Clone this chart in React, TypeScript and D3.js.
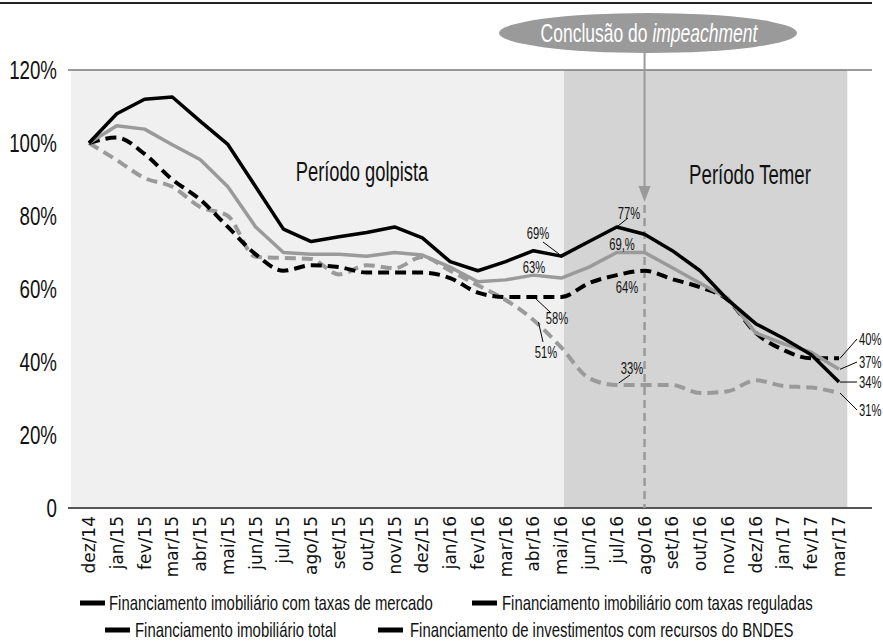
import React from 'react';
import * as d3 from 'd3';

// meses (dez/14 a mar/17)
const months = [
  'dez/14', 'jan/15', 'fev/15', 'mar/15', 'abr/15', 'mai/15', 'jun/15', 'jul/15',
  'ago/15', 'set/15', 'out/15', 'nov/15', 'dez/15', 'jan/16', 'fev/16', 'mar/16',
  'abr/16', 'mai/16', 'jun/16', 'jul/16', 'ago/16', 'set/16', 'out/16', 'nov/16',
  'dez/16', 'jan/17', 'fev/17', 'mar/17',
];

// índice (dez/14 = 100%)
const mercado = [100, 108, 112, 112.6, 106, 99.6, 88, 76.4, 73, 74.3, 75.5, 77, 74, 67.5, 65, 67.5, 70.5, 69, 73, 77, 75, 70.5, 65, 57, 50.5, 46.5, 42, 34.5];
const total = [100, 104.7, 103.8, 99.5, 95.5, 88, 77, 70, 69.5, 69.5, 69, 70, 69.3, 66, 62, 62.5, 63.8, 63, 66, 70, 70, 65.8, 61.6, 57.5, 48, 45, 42.7, 38];
const reguladas = [100, 101.5, 97, 90, 84.5, 77, 69.5, 65, 66.5, 66, 64.5, 64.5, 64.5, 63, 59, 57.8, 57.8, 57.8, 61.6, 63.8, 65, 62.7, 60.5, 57, 48, 43.3, 41, 41];
const bndes = [100, 95.3, 90.4, 88, 82.5, 80, 68.8, 68.5, 68.2, 64, 66.5, 65.7, 68.8, 65, 61, 57, 51.5, 44, 35.6, 33.7, 33.7, 33.7, 31.5, 32, 35, 33.4, 33, 31.5];

const yTicks = [0, 20, 40, 60, 80, 100, 120];

const legendRow1 = ['Financiamento imobiliário com taxas de mercado', 'Financiamento imobiliário com taxas reguladas'];
const legendRow2 = ['Financiamento imobiliário total', 'Financiamento de investimentos com recursos do BNDES'];

const W = 883;
const H = 643;
const SANS = "'Liberation Sans', Arial, sans-serif";
const GREY = '#9a9a9a';

// texto "condensado": fonte normal comprimida na horizontal
function NText({ x, y, size, sx = 0.69, anchor = 'start', fill = '#111', children }: any) {
  return (
    <text transform={`translate(${x},${y}) scale(${sx},1)`} dy="0.35em" textAnchor={anchor}
      fontFamily={SANS} fontSize={size} fill={fill}>{children}</text>
  );
}

export default function App() {
  const x = d3.scaleLinear().domain([0, months.length - 1]).range([89, 839]);
  const y = d3.scaleLinear().domain([0, 120]).range([508, 70]);

  const straight = d3.line<number>().x((_, i) => x(i)).y(d => y(d));
  const smooth = d3.line<number>().x((_, i) => x(i)).y(d => y(d)).curve(d3.curveMonotoneX);

  const split = 17.1; // início do período Temer
  const eventIdx = months.indexOf('ago/16');

  const notes: { t: string; cx: number; cy: number; lx?: [number, number, number, number] }[] = [
    { t: '69%', cx: 538, cy: 233, lx: [543, 242, x(17) - 2, y(69) - 2] },
    { t: '63%', cx: 534, cy: 267 },
    { t: '58%', cx: 557, cy: 318, lx: [535, 298, 550, 312] },
    { t: '51%', cx: 546, cy: 352, lx: [x(16) + 5, y(51.5) + 2, 543, 342] },
    { t: '33%', cx: 632, cy: 368, lx: [x(19) + 2, y(33.7) - 2, 630, 375] },
    { t: '77%', cx: 629, cy: 213, lx: [x(19), y(77), 628, 218] },
    { t: '69,%', cx: 622, cy: 244 },
    { t: '64%', cx: 627, cy: 287 },
  ];
  const endNotes: { t: string; v: number; cy: number }[] = [
    { t: '40%', v: 41, cy: 339 },
    { t: '37%', v: 38, cy: 362 },
    { t: '34%', v: 34.5, cy: 382 },
    { t: '31%', v: 31.5, cy: 410 },
  ];

  return (
    <div style={{ position: 'fixed', left: 0, top: 0 }}>
      <svg width={W} height={H} style={{ display: 'block', background: '#fff' }}>
        <line x1={0} x2={872} y1={3} y2={3} stroke="#222" strokeWidth={2} />

        {/* fundos */}
        <rect x={x(-0.65)} y={y(120)} width={x(split) - x(-0.65)} height={y(0) - y(120)} fill="#f0f0f0" />
        <rect x={x(split)} y={y(120)} width={x(27.3) - x(split)} height={y(0) - y(120)} fill="#d4d4d4" />
        <line x1={68} x2={872} y1={y(120)} y2={y(120)} stroke="#7a7a7a" strokeWidth={1.5} />
        <line x1={68} x2={872} y1={y(0)} y2={y(0)} stroke="#555" strokeWidth={2} />

        {/* eixo y */}
        {yTicks.map(t => (
          <NText key={t} x={57} y={y(t)} size={26} sx={0.72} anchor="end">{t === 0 ? '0' : `${t}%`}</NText>
        ))}

        {/* eixo x */}
        {months.map((m, i) => (
          <text key={m} transform={`translate(${x(i)},516) rotate(-90)`} dy="0.35em" textAnchor="end"
            fontFamily="'DejaVu Sans', sans-serif" fontSize={17} fill="#111">{m}</text>
        ))}

        <NText x={362} y={172} size={27} sx={0.68} anchor="middle">Período golpista</NText>
        <NText x={750} y={175} size={27} sx={0.69} anchor="middle">Período Temer</NText>

        {/* impeachment */}
        <line x1={x(eventIdx)} x2={x(eventIdx)} y1={205} y2={y(0)} stroke={GREY} strokeWidth={2.5} strokeDasharray="8,5" />
        <line x1={x(eventIdx)} x2={x(eventIdx)} y1={50} y2={190} stroke={GREY} strokeWidth={2} />
        <path d={`M${x(eventIdx) - 6},186 L${x(eventIdx) + 6},186 L${x(eventIdx)},202 Z`} fill={GREY} />
        <ellipse cx={648} cy={33} rx={149} ry={20} fill={GREY} />
        <NText x={649} y={33} size={25} sx={0.7} anchor="middle" fill="#fff">
          Conclusão do <tspan fontStyle="italic">impeachment</tspan>
        </NText>

        {/* séries */}
        <path d={smooth(bndes) || ''} fill="none" stroke={GREY} strokeWidth={4} strokeDasharray="11,6" />
        <path d={smooth(reguladas) || ''} fill="none" stroke="#000" strokeWidth={4} strokeDasharray="11,6" />
        <path d={straight(total) || ''} fill="none" stroke={GREY} strokeWidth={3.5} strokeLinejoin="round" />
        <path d={straight(mercado) || ''} fill="none" stroke="#000" strokeWidth={3.5} strokeLinejoin="round" />

        {/* rótulos */}
        {notes.map(n => (
          <g key={n.t + n.cy}>
            {n.lx && <line x1={n.lx[0]} y1={n.lx[1]} x2={n.lx[2]} y2={n.lx[3]} stroke="#000" strokeWidth={1} />}
            <NText x={n.cx} y={n.cy} size={17} sx={0.66} anchor="middle">{n.t}</NText>
          </g>
        ))}
        {endNotes.map(n => (
          <g key={n.t}>
            <line x1={x(27) + 1} y1={y(n.v)} x2={857} y2={n.cy} stroke="#000" strokeWidth={1} />
            <NText x={859} y={n.cy} size={17} sx={0.66}>{n.t}</NText>
          </g>
        ))}

        {/* legenda */}
        {[
          { label: legendRow1[0], sx: 80, tx: 109, cy: 603 },
          { label: legendRow1[1], sx: 472, tx: 502, cy: 603 },
          { label: legendRow2[0], sx: 105, tx: 135, cy: 630 },
          { label: legendRow2[1], sx: 378, tx: 410, cy: 630 },
        ].map(l => (
          <g key={l.label}>
            <rect x={l.sx} y={l.cy - 2.5} width={25} height={5} fill="#000" />
            <NText x={l.tx} y={l.cy} size={21} sx={0.71}>{l.label}</NText>
          </g>
        ))}
      </svg>
    </div>
  );
}
